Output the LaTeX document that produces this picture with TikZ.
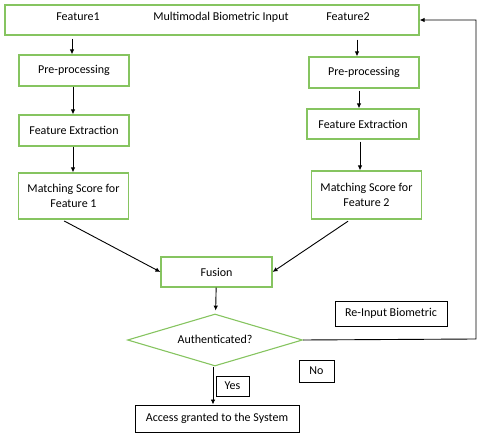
\documentclass[tikz,border=0pt]{standalone}
\usepackage{fontspec}
\setmainfont{Carlito}
\usetikzlibrary{arrows.meta,shapes.geometric}
\definecolor{boxgreen}{RGB}{134,196,96}

\begin{document}
\begin{tikzpicture}[x=1pt,y=-1pt,
  font=\fontsize{12}{15}\selectfont,
  box/.style={draw=boxgreen,line width=1.1pt,align=center,inner sep=2pt,
              minimum width=110pt,minimum height=31pt},
  plain/.style={draw,line width=0.9pt,align=center,inner sep=2pt},
  ar/.style={-{Latex[length=5pt,width=4.5pt]},line width=0.9pt}]
\useasboundingbox (0,0) rectangle (480,438);
\node[box,minimum width=414pt,minimum height=30pt] (top) at (212,20) {};
\node (f1) at (78,17) {Feature1};
\node (mbi) at (221,17) {Multimodal Biometric Input};
\node (f2) at (348,17) {Feature2};
% left column
\node[box] (pre1) at (74,70.5) {Pre-processing};
\node[box] (fe1) at (74,130.5) {Feature Extraction};
\node[box,minimum height=46pt] (ms1) at (73.5,196) {Matching Score for\\ Feature 1};
% right column
\node[box] (pre2) at (364,72.5) {Pre-processing};
\node[box,minimum width=112pt,minimum height=30pt] (fe2) at (363,124) {Feature Extraction};
\node[box,minimum height=48pt] (ms2) at (366.5,195) {Matching Score for\\ Feature 2};
% decision
\node[box,minimum width=111pt,minimum height=30pt] (fus) at (216.5,272) {Fusion};
\node[draw=boxgreen,line width=1.1pt,diamond,aspect=3.4,inner sep=0pt,
      minimum width=175pt,minimum height=52pt] (auth) at (215,340) {\raisebox{2pt}{Authenticated?}};
\node[plain,minimum width=112pt,minimum height=25pt] (reinp) at (391,313.5) {Re-Input Biometric};
\node[plain,minimum width=35pt,minimum height=22pt] (no) at (316.5,371) {No};
\node[plain,minimum width=33pt,minimum height=20pt] (yes) at (232.5,386) {Yes};
\node[plain,minimum width=164pt,minimum height=27pt] (acc) at (217,418.5) {Access granted to the System};
\coordinate (back) at (476,339);
\draw[ar,shorten <=3pt] ([xshift=-2pt]top.south -| pre1.north) -- ([xshift=-2pt]pre1.north);
\draw[ar] ([xshift=-1pt]pre1.south) -- ([xshift=-1pt]fe1.north);
\draw[ar] ([xshift=-1pt]fe1.south) -- ([xshift=-1pt]fe1.south |- ms1.north);
\draw[ar,shorten <=4pt] ([xshift=-7pt]top.south -| pre2.north) -- ([xshift=-7pt]pre2.north);
\draw[ar,shorten <=2pt] ([xshift=-5pt]pre2.south) -- ([xshift=-5pt]pre2.south |- fe2.north);
\draw[ar,shorten <=2pt] ([xshift=-3pt]fe2.south) -- ([xshift=-3pt]fe2.south |- ms2.north);
\draw[ar,shorten <=3pt] ([xshift=-12pt]ms1.south) -- (fus.west);
\draw[ar,shorten <=3pt] ([xshift=-16pt]ms2.south) -- (fus.east);
\draw[ar,shorten >=3pt] (fus) -- (auth);
\draw[ar] (auth.east) -- (back) |- (top.east);
\draw[ar] ([xshift=-2pt]auth.south) -- ([xshift=-2pt]auth.south |- acc.north);
\end{tikzpicture}
\end{document}
